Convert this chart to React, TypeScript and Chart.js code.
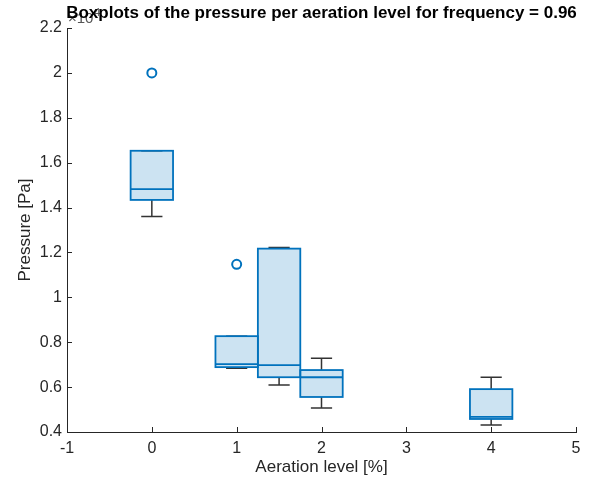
import React, { useEffect, useRef } from "react";
import { Chart, registerables } from "chart.js";

Chart.register(...registerables);

// Aeration levels [%] where each box sits
const positions = [0, 1, 1.5, 2, 4];
// Box statistics (pressure, x 10^4 Pa)
const whiskerLow = [1.36, 0.684, 0.609, 0.507, 0.431];
const q1 = [1.434, 0.689, 0.644, 0.556, 0.458];
const median = [1.482, 0.702, 0.698, 0.644, 0.467];
const q3 = [1.653, 0.827, 1.217, 0.676, 0.591];
const whiskerHigh = [1.653, 0.827, 1.222, 0.729, 0.644];
// Outliers
const outlierX = [0, 1];
const outlierY = [2.0, 1.147];

const xTicks = [-1, 0, 1, 2, 3, 4, 5];
const yTicks = [0.4, 0.6, 0.8, 1, 1.2, 1.4, 1.6, 1.8, 2, 2.2];

const TITLE = "Boxplots of the pressure per aeration level for frequency = 0.96";

const BOX_WIDTH = 0.5;
const EDGE = "#0072BD";
const FILL = "rgba(0,114,189,0.2)";
const WHISKER = "#333333";
const AXIS = "#262626";
const FONT = "'Liberation Sans', Arial, Helvetica, sans-serif";

const boxPlugin = {
  id: "boxes",
  beforeDatasetsDraw(chart: any) {
    const { ctx, scales } = chart;
    const xs = scales.x;
    const ys = scales.y;
    ctx.save();
    positions.forEach((p, i) => {
      const xc = xs.getPixelForValue(p);
      const xl = xs.getPixelForValue(p - BOX_WIDTH / 2);
      const xr = xs.getPixelForValue(p + BOX_WIDTH / 2);
      const cl = xs.getPixelForValue(p - BOX_WIDTH / 4);
      const cr = xs.getPixelForValue(p + BOX_WIDTH / 4);
      const yLo = ys.getPixelForValue(whiskerLow[i]);
      const yHi = ys.getPixelForValue(whiskerHigh[i]);
      const y1 = ys.getPixelForValue(q1[i]);
      const y3 = ys.getPixelForValue(q3[i]);
      const ym = ys.getPixelForValue(median[i]);

      // whiskers
      ctx.strokeStyle = WHISKER;
      ctx.lineWidth = 1.5;
      ctx.beginPath();
      ctx.moveTo(xc, y1);
      ctx.lineTo(xc, yLo);
      ctx.moveTo(cl, yLo);
      ctx.lineTo(cr, yLo);
      ctx.moveTo(xc, y3);
      ctx.lineTo(xc, yHi);
      ctx.moveTo(cl, yHi);
      ctx.lineTo(cr, yHi);
      ctx.stroke();

      // box
      ctx.fillStyle = FILL;
      ctx.fillRect(xl, y3, xr - xl, y1 - y3);
      ctx.strokeStyle = EDGE;
      ctx.lineWidth = 1.8;
      ctx.strokeRect(xl, y3, xr - xl, y1 - y3);
      ctx.beginPath();
      ctx.moveTo(xl, ym);
      ctx.lineTo(xr, ym);
      ctx.stroke();
    });
    ctx.restore();
  },
  afterDraw(chart: any) {
    const { ctx, scales, chartArea } = chart;
    const xs = scales.x;
    const ys = scales.y;
    ctx.save();
    // inward tick marks
    ctx.strokeStyle = AXIS;
    ctx.lineWidth = 1;
    ctx.beginPath();
    xTicks.forEach((t) => {
      const x = Math.round(xs.getPixelForValue(t)) + 0.5;
      ctx.moveTo(x, chartArea.bottom);
      ctx.lineTo(x, chartArea.bottom - 5);
    });
    yTicks.forEach((t) => {
      const y = Math.round(ys.getPixelForValue(t)) + 0.5;
      ctx.moveTo(chartArea.left, y);
      ctx.lineTo(chartArea.left + 5, y);
    });
    ctx.stroke();
    // exponent label for the y axis
    ctx.fillStyle = "#555";
    ctx.textBaseline = "alphabetic";
    ctx.textAlign = "left";
    ctx.font = `15px ${FONT}`;
    ctx.fillText("\u00d710", chartArea.left + 1, chartArea.top - 5);
    const w = ctx.measureText("\u00d710").width;
    ctx.font = `10px ${FONT}`;
    ctx.fillText("4", chartArea.left + 2 + w, chartArea.top - 12);
    // title, centred over the plot area
    ctx.fillStyle = "#000";
    ctx.font = `bold 17px ${FONT}`;
    ctx.textAlign = "center";
    ctx.textBaseline = "middle";
    ctx.fillText(TITLE, (chartArea.left + chartArea.right) / 2, 13);
    ctx.restore();
  },
};

export default function App() {
  const canvasRef = useRef<HTMLCanvasElement | null>(null);

  useEffect(() => {
    if (!canvasRef.current) return;
    const chart = new Chart(canvasRef.current, {
      type: "scatter",
      data: {
        datasets: [
          {
            label: "Outliers",
            data: outlierX.map((x, i) => ({ x, y: outlierY[i] })),
            pointStyle: "circle",
            pointRadius: 4.5,
            pointBorderWidth: 2,
            pointBorderColor: EDGE,
            pointBackgroundColor: "rgba(0,0,0,0)",
          },
        ],
      },
      options: {
        responsive: false,
        animation: false,
        devicePixelRatio: 1,
        layout: { padding: { left: 0, right: 16, top: 28, bottom: 0 } },
        plugins: {
          legend: { display: false },
          tooltip: { enabled: false },
          title: { display: false },
        },
        scales: {
          x: {
            type: "linear",
            min: -1,
            max: 5,
            afterBuildTicks: (s: any) => {
              s.ticks = xTicks.map((v) => ({ value: v }));
            },
            afterFit: (s: any) => {
              s.height = 52;
            },
            grid: { display: false, drawTicks: false },
            border: { display: true, color: AXIS, width: 1 },
            ticks: {
              color: AXIS,
              padding: 7,
              font: { family: FONT, size: 16 },
              callback: (v: any) => String(v),
            },
            title: {
              display: true,
              text: "Aeration level [%]",
              color: AXIS,
              font: { family: FONT, size: 17 },
              padding: { top: 0, bottom: 6 },
            },
          },
          y: {
            type: "linear",
            min: 0.4,
            max: 2.2,
            afterBuildTicks: (s: any) => {
              s.ticks = yTicks.map((v) => ({ value: v }));
            },
            afterFit: (s: any) => {
              s.width = 67;
            },
            grid: { display: false, drawTicks: false },
            border: { display: true, color: AXIS, width: 1 },
            ticks: {
              color: AXIS,
              padding: 5,
              font: { family: FONT, size: 16 },
              callback: (v: any) => String(+Number(v).toFixed(1)),
            },
            title: {
              display: true,
              text: "Pressure [Pa]",
              color: AXIS,
              font: { family: FONT, size: 17 },
              padding: { top: 15, bottom: 0 },
            },
          },
        },
      },
      plugins: [boxPlugin],
    });
    return () => chart.destroy();
  }, []);

  return (
    <div style={{ position: "fixed", left: 0, top: 0, width: 592, height: 484, background: "#fff" }}>
      <canvas ref={canvasRef} width={592} height={484} />
    </div>
  );
}
